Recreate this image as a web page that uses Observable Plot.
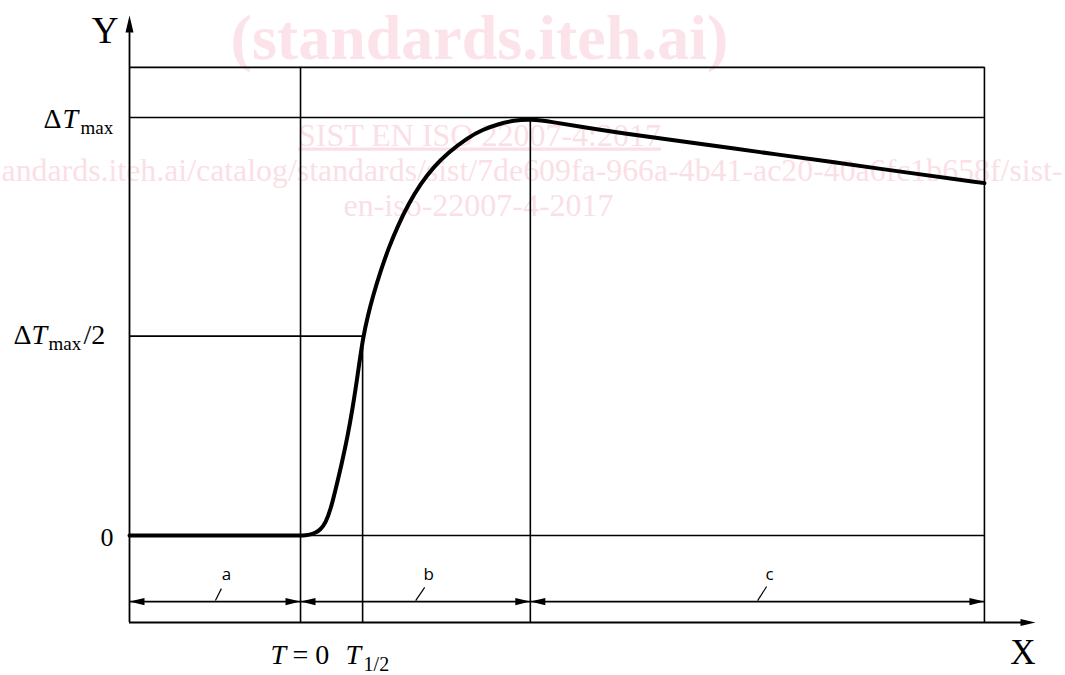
<!DOCTYPE html>
<html>
<head>
<meta charset="utf-8">
<script src="https://cdn.jsdelivr.net/npm/d3@7"></script>
<script src="https://cdn.jsdelivr.net/npm/@observablehq/plot@0.6"></script>
<style>
  html, body { margin: 0; padding: 0; background: #ffffff; }
  #chart svg { display: block; overflow: visible; }
</style>
</head>
<body>
<div id="chart"></div>
<script>
// ---- Data (schematic values) ----
const xAxisMin = -34.16, xAxisMax = 146.8;     // time axis extent
const yAxisMin = -20.8,  yAxisMax = 124.4;     // temperature-rise axis extent
const T0 = 0, THalf = 12.4, TPeak = 45.9, TEnd = 136.6;
const dTmax = 100, dTHalf = 47.7, frameTop = 112, dimY = -15.8;

const curveX = [-34.16, -2, 0, 1.0, 2.0, 3.0, 4.0, 5.0, 6.0, 7.0, 8.2, 9.4, 10.4, 11.4, 12.5, 13.5, 14.4, 16.0, 17.6, 19.4, 21.6, 24.0, 26.6, 29.4, 33.4, 36.4, 39.4, 42.6, 45.9, 50.5, 55.9, 63.9, 77.3, 91.9, 105.9, 121.9, 136.6];
const curveY = [0, 0, 0, 0.05, 0.24, 0.65, 1.44, 3.0, 6.2, 11.0, 17.0, 23.7, 30.4, 38.3, 47.6, 52.8, 57.0, 63.3, 68.8, 74.0, 79.4, 84.2, 88.2, 91.5, 95.2, 97.1, 98.4, 99.3, 99.6, 98.9, 97.8, 96.3, 94.1, 91.7, 89.4, 86.7, 84.3];

const segmentLabels = ["a", "b", "c"];
const segmentStart  = [xAxisMin, T0, TPeak];
const segmentEnd    = [T0, TPeak, TEnd];
const segmentLabelX = [-14.8, 25.6, 93.7];
const leaderX1 = [-17.0, 23.0, 91.3];
const leaderY1 = [-15.55, -15.55, -15.55];
const leaderX2 = [-15.8, 24.8, 93.1];
const leaderY2 = [-12.7, -12.4, -12.2];

const watermarkLines = [
  "(standards.iteh.ai)",
  "SIST EN ISO 22007-4:2017",
  "andards.iteh.ai/catalog/standards/sist/7de609fa-966a-4b41-ac20-40a6fc1b658f/sist-",
  "en-iso-22007-4-2017"
];

// ---- Derived tables ----
const curve = curveX.map((x, i) => ({x, y: curveY[i]}));
const hLines = [
  {y: frameTop, x1: xAxisMin, x2: TEnd},
  {y: dTmax,    x1: xAxisMin, x2: TEnd},
  {y: dTHalf,   x1: xAxisMin, x2: THalf},
  {y: 0,        x1: xAxisMin, x2: TEnd},
  {y: dimY,     x1: xAxisMin, x2: TEnd}
];
const vLines = [
  {x: T0,    y1: yAxisMin, y2: frameTop},
  {x: THalf, y1: yAxisMin, y2: dTHalf},
  {x: TPeak, y1: yAxisMin, y2: dTmax},
  {x: TEnd,  y1: yAxisMin, y2: frameTop}
];
const leftHeads  = segmentStart.map(x => ({x, y: dimY}));
const rightHeads = segmentEnd.map(x => ({x, y: dimY}));
const leaders = segmentLabels.map((s, i) => ({x1: leaderX1[i], y1: leaderY1[i], x2: leaderX2[i], y2: leaderY2[i]}));
const segLabels = segmentLabels.map((s, i) => ({x: segmentLabelX[i], y: dimY, s}));

// ---- Arrowhead symbols (tip at the anchor point) ----
const headRight = {draw(c) { c.moveTo(0, 0); c.lineTo(-15, -3.6); c.lineTo(-15, 3.6); c.closePath(); }};
const headLeft  = {draw(c) { c.moveTo(0, 0); c.lineTo(15, -3.6); c.lineTo(15, 3.6); c.closePath(); }};
const headUp    = {draw(c) { c.moveTo(0, 0); c.lineTo(-4, 17); c.lineTo(4, 17); c.closePath(); }};
const headXAxis = {draw(c) { c.moveTo(0, 0); c.lineTo(-15, -3.6); c.lineTo(-15, 3.6); c.closePath(); }};

const serif = "Liberation Serif, Times New Roman, serif";
const pinkBold = "#fce3ea", pink = "#fadfe6";
const ink = "#000000";

const wm = (i, dx, dy, size, weight, anchor, fill) =>
  Plot.text([watermarkLines[i]], {text: d => d, frameAnchor: "top-left", dx, dy, fontSize: size,
    fontWeight: weight, fontFamily: serif, fill, textAnchor: anchor, lineAnchor: "bottom"});

const lbl = (data, opts) => Plot.text(data, {fontFamily: serif, fill: ink, lineAnchor: "bottom", ...opts});

const plot = Plot.plot({
  width: 1065,
  height: 675,
  margin: 0,
  style: {background: "#ffffff", overflow: "visible"},
  x: {domain: [xAxisMin, xAxisMax], range: [129, 1035], axis: null},
  y: {domain: [yAxisMin, yAxisMax], range: [622, 15], axis: null},
  marks: [
    // watermark (beneath the drawing)
    wm(0, 479, 58, 64, "bold", "middle", pinkBold),
    wm(1, 479, 145, 32, "normal", "middle", pink),
    wm(2, 1, 180, 31, "normal", "start", pink),
    wm(3, 478, 215, 32, "normal", "middle", pink),

    // frame and reference lines
    Plot.ruleY(hLines, {y: "y", x1: "x1", x2: "x2", stroke: ink, strokeWidth: 1.6}),
    Plot.ruleX(vLines, {x: "x", y1: "y1", y2: "y2", stroke: ink, strokeWidth: 1.6}),

    // axes
    Plot.ruleX([xAxisMin], {y1: yAxisMin, y2: yAxisMax - 3, stroke: ink, strokeWidth: 1.8}),
    Plot.ruleY([yAxisMin], {x1: xAxisMin, x2: xAxisMax - 2, stroke: ink, strokeWidth: 1.8}),
    Plot.dot([{x: xAxisMin, y: yAxisMax}], {x: "x", y: "y", symbol: headUp, fill: ink, stroke: "none"}),
    Plot.dot([{x: xAxisMax, y: yAxisMin}], {x: "x", y: "y", symbol: headXAxis, fill: ink, stroke: "none"}),

    // dimension arrowheads
    Plot.dot(leftHeads,  {x: "x", y: "y", symbol: headLeft,  fill: ink, stroke: "none"}),
    Plot.dot(rightHeads, {x: "x", y: "y", symbol: headRight, fill: ink, stroke: "none"}),
    Plot.link(leaders, {x1: "x1", y1: "y1", x2: "x2", y2: "y2", stroke: ink, strokeWidth: 1.2}),
    Plot.text(segLabels, {x: "x", y: "y", text: "s", dy: -22, lineAnchor: "bottom", textAnchor: "middle",
      fontSize: 17, fontFamily: "Open Sans, Liberation Sans, sans-serif", fill: ink}),

    // the curve
    Plot.line(curve, {x: "x", y: "y", curve: "basis", stroke: ink, strokeWidth: 4, strokeLinejoin: "round"}),

    // Y tick labels
    lbl([{x: xAxisMin, y: dTmax}], {x: "x", y: "y", text: () => "Δ", dx: -86, dy: 10, fontSize: 28, textAnchor: "start"}),
    lbl([{x: xAxisMin, y: dTmax}], {x: "x", y: "y", text: () => "T", dx: -67, dy: 10, fontSize: 28, fontStyle: "italic", textAnchor: "start"}),
    lbl([{x: xAxisMin, y: dTmax}], {x: "x", y: "y", text: () => "max", dx: -49, dy: 16, fontSize: 19, textAnchor: "start"}),

    lbl([{x: xAxisMin, y: dTHalf}], {x: "x", y: "y", text: () => "Δ", dx: -116, dy: 7.5, fontSize: 28, textAnchor: "start"}),
    lbl([{x: xAxisMin, y: dTHalf}], {x: "x", y: "y", text: () => "T", dx: -98, dy: 7.5, fontSize: 28, fontStyle: "italic", textAnchor: "start"}),
    lbl([{x: xAxisMin, y: dTHalf}], {x: "x", y: "y", text: () => "max", dx: -81, dy: 13.5, fontSize: 19, textAnchor: "start"}),
    lbl([{x: xAxisMin, y: dTHalf}], {x: "x", y: "y", text: () => "/2", dx: -46, dy: 7.5, fontSize: 28, textAnchor: "start"}),

    lbl([{x: xAxisMin, y: 0}], {x: "x", y: "y", text: () => "0", dx: -16, dy: 10, fontSize: 26, textAnchor: "end"}),

    // axis titles
    lbl([{x: xAxisMin, y: yAxisMax}], {x: "x", y: "y", text: () => "Y", dx: -11, dy: 27, fontSize: 37, textAnchor: "end"}),
    lbl([{x: xAxisMax, y: yAxisMin}], {x: "x", y: "y", text: () => "X", dx: 0, dy: 41, fontSize: 35, textAnchor: "end"}),

    // X tick labels
    lbl([{x: T0, y: yAxisMin}], {x: "x", y: "y", text: () => "T", dx: -30, dy: 41, fontSize: 28, fontStyle: "italic", textAnchor: "start"}),
    lbl([{x: T0, y: yAxisMin}], {x: "x", y: "y", text: () => "= 0", dx: -8, dy: 41, fontSize: 28, textAnchor: "start"}),
    lbl([{x: THalf, y: yAxisMin}], {x: "x", y: "y", text: () => "T", dx: -17, dy: 41, fontSize: 28, fontStyle: "italic", textAnchor: "start"}),
    lbl([{x: THalf, y: yAxisMin}], {x: "x", y: "y", text: () => "1/2", dx: 1, dy: 48, fontSize: 20, textAnchor: "start"})
  ]
});

plot.querySelectorAll("text").forEach(t => {
  if (t.textContent === watermarkLines[1]) t.style.textDecoration = "underline";
  if (t.textContent === watermarkLines[2]) {
    t.setAttribute("textLength", "1061");
    t.setAttribute("lengthAdjust", "spacingAndGlyphs");
  }
});
document.getElementById("chart").appendChild(plot);
</script>
</body>
</html>
